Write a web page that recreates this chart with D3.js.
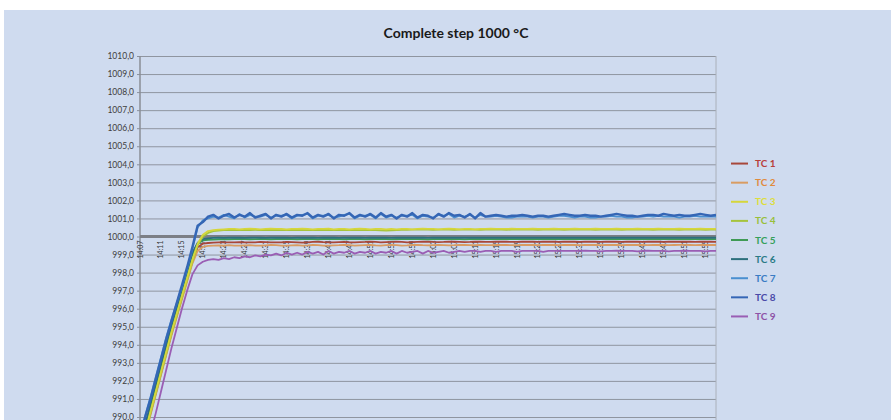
<!DOCTYPE html>
<html>
<head>
<meta charset="utf-8">
<script src="https://cdn.jsdelivr.net/npm/d3@7/dist/d3.min.js"></script>
<style>
  html, body { margin: 0; padding: 0; background: #fff; }
  svg { display: block; }
</style>
</head>
<body>
<div id="chart"></div>
<script>
// Complete step 1000 °C — thermocouple readings, one point per minute

const times = [
  '14:07','14:08','14:09','14:10','14:11','14:12','14:13','14:14','14:15','14:16',
  '14:17','14:18','14:19','14:20','14:21','14:22','14:23','14:24','14:25','14:26',
  '14:27','14:28','14:29','14:30','14:31','14:32','14:33','14:34','14:35','14:36',
  '14:37','14:38','14:39','14:40','14:41','14:42','14:43','14:44','14:45','14:46',
  '14:47','14:48','14:49','14:50','14:51','14:52','14:53','14:54','14:55','14:56',
  '14:57','14:58','14:59','15:00','15:01','15:02','15:03','15:04','15:05','15:06',
  '15:07','15:08','15:09','15:10','15:11','15:12','15:13','15:14','15:15','15:16',
  '15:17','15:18','15:19','15:20','15:21','15:22','15:23','15:24','15:25','15:26',
  '15:27','15:28','15:29','15:30','15:31','15:32','15:33','15:34','15:35','15:36',
  '15:37','15:38','15:39','15:40','15:41','15:42','15:43','15:44','15:45','15:46',
  '15:47','15:48','15:49','15:50','15:51','15:52','15:53','15:54','15:55','15:56',
  '15:57'
];

// label shown every 4th minute
const tickLabels = [
  '14:07','14:11','14:15','14:19','14:23','14:27','14:31','14:35','14:39','14:43',
  '14:47','14:51','14:55','14:59','15:03','15:07','15:11','15:15','15:19','15:23',
  '15:27','15:31','15:35','15:39','15:43','15:47','15:51','15:55'
];

const yTicks = [990,991,992,993,994,995,996,997,998,999,1000,1001,1002,1003,1004,1005,1006,1007,1008,1009,1010];

const seriesNames = ['TC 1','TC 2','TC 3','TC 4','TC 5','TC 6','TC 7','TC 8','TC 9'];
const lineColors  = ['#a8473a','#d99c62','#d6d63c','#a6c43c','#3f9a55','#2c6f7c','#4a8fd0','#3566b5','#9a5eb4'];
const textColors  = ['#b8403a','#e08a3c','#dede3a','#98bf3a','#35a05a','#2a7a86','#3a7cc4','#4a4aa8','#8e52a6'];

const tc1 = [
  988.0, 989.1, 990.2, 991.3, 992.4, 993.5, 994.6, 995.6, 996.6, 997.6, 998.6, 999.4, 999.6, 999.64,
  999.66, 999.67, 999.68, 999.67, 999.68, 999.69, 999.68, 999.67, 999.68, 999.7,
  999.69, 999.68, 999.67, 999.68, 999.7, 999.69, 999.68, 999.66, 999.68, 999.7,
  999.71, 999.69, 999.68, 999.67, 999.69, 999.7, 999.68, 999.67, 999.69, 999.7,
  999.72, 999.7, 999.68, 999.69, 999.7, 999.71, 999.7, 999.68, 999.69, 999.7,
  999.71, 999.72, 999.7, 999.69, 999.7, 999.72, 999.71, 999.7, 999.69, 999.7,
  999.72, 999.71, 999.7, 999.7, 999.71, 999.72, 999.71, 999.7, 999.7, 999.71,
  999.72, 999.71, 999.7, 999.71, 999.72, 999.71, 999.7, 999.71, 999.72, 999.71,
  999.7, 999.71, 999.72, 999.71, 999.7, 999.71, 999.72, 999.71, 999.7, 999.71,
  999.72, 999.71, 999.7, 999.71, 999.72, 999.71, 999.7, 999.71, 999.72, 999.71,
  999.72, 999.71, 999.7, 999.71, 999.72, 999.71, 999.7
];

const tc2 = [
  987.9, 989.0, 990.1, 991.2, 992.3, 993.4, 994.5, 995.5, 996.5, 997.5, 998.5, 999.2, 999.42, 999.48,
  999.5, 999.51, 999.5, 999.52, 999.5, 999.49, 999.51, 999.52, 999.5, 999.49,
  999.51, 999.53, 999.52, 999.5, 999.49, 999.51, 999.52, 999.5, 999.51, 999.53,
  999.52, 999.5, 999.49, 999.51, 999.52, 999.54, 999.52, 999.5, 999.51, 999.52,
  999.53, 999.51, 999.5, 999.52, 999.53, 999.52, 999.5, 999.51, 999.53, 999.54,
  999.52, 999.51, 999.52, 999.53, 999.52, 999.51, 999.52, 999.54, 999.53, 999.52,
  999.52, 999.53, 999.52, 999.52, 999.53, 999.54, 999.53, 999.52, 999.52, 999.53,
  999.54, 999.53, 999.52, 999.53, 999.54, 999.53, 999.52, 999.53, 999.54, 999.53,
  999.52, 999.53, 999.54, 999.53, 999.52, 999.53, 999.54, 999.53, 999.52, 999.53,
  999.53, 999.54, 999.53, 999.52, 999.53, 999.54, 999.53, 999.52, 999.53, 999.54,
  999.54, 999.53, 999.52, 999.53, 999.54, 999.53, 999.53
];

const tc3 = [
  988.1, 989.2, 990.3, 991.4, 992.5, 993.6, 994.7, 995.7, 996.7, 997.7, 998.7, 999.6, 1000.1, 1000.3,
  1000.35, 1000.38, 1000.4, 1000.42, 1000.42, 1000.4, 1000.42, 1000.43, 1000.42, 1000.4,
  1000.42, 1000.43, 1000.42, 1000.42, 1000.4, 1000.42, 1000.42, 1000.43, 1000.42, 1000.4,
  1000.42, 1000.42, 1000.43, 1000.4, 1000.42, 1000.42, 1000.4, 1000.42, 1000.43, 1000.42,
  1000.4, 1000.42, 1000.42, 1000.4, 1000.42, 1000.4, 1000.42, 1000.42, 1000.4, 1000.42,
  1000.43, 1000.42, 1000.42, 1000.4, 1000.42, 1000.43, 1000.42, 1000.4, 1000.42, 1000.42,
  1000.4, 1000.42, 1000.42, 1000.43, 1000.42, 1000.42, 1000.42, 1000.43, 1000.42, 1000.42,
  1000.42, 1000.43, 1000.42, 1000.42, 1000.42, 1000.43, 1000.42, 1000.42, 1000.42, 1000.43,
  1000.42, 1000.42, 1000.42, 1000.43, 1000.42, 1000.42, 1000.42, 1000.43, 1000.42, 1000.42,
  1000.42, 1000.43, 1000.42, 1000.42, 1000.42, 1000.43, 1000.42, 1000.42, 1000.42, 1000.43,
  1000.42, 1000.42, 1000.42, 1000.43, 1000.42, 1000.42, 1000.42
];

const tc4 = [
  988.0, 989.1, 990.2, 991.3, 992.4, 993.5, 994.6, 995.6, 996.6, 997.6, 998.6, 999.5, 1000.0, 1000.2,
  1000.3, 1000.33, 1000.35, 1000.36, 1000.36, 1000.37, 1000.36, 1000.36, 1000.37, 1000.36,
  1000.36, 1000.37, 1000.36, 1000.35, 1000.36, 1000.37, 1000.36, 1000.36, 1000.35, 1000.36,
  1000.37, 1000.36, 1000.36, 1000.35, 1000.36, 1000.36, 1000.37, 1000.36, 1000.35, 1000.36,
  1000.36, 1000.35, 1000.34, 1000.33, 1000.34, 1000.36, 1000.37, 1000.37, 1000.38, 1000.38,
  1000.38, 1000.38, 1000.37, 1000.38, 1000.38, 1000.38, 1000.37, 1000.38, 1000.38, 1000.38,
  1000.38, 1000.37, 1000.38, 1000.38, 1000.38, 1000.38, 1000.37, 1000.38, 1000.38, 1000.38,
  1000.38, 1000.38, 1000.37, 1000.38, 1000.38, 1000.38, 1000.38, 1000.37, 1000.38, 1000.38,
  1000.38, 1000.38, 1000.38, 1000.37, 1000.38, 1000.38, 1000.38, 1000.38, 1000.37, 1000.38,
  1000.38, 1000.38, 1000.38, 1000.38, 1000.37, 1000.38, 1000.38, 1000.38, 1000.38, 1000.37,
  1000.38, 1000.38, 1000.38, 1000.38, 1000.37, 1000.38, 1000.38
];

const tc5 = [
  988.4, 989.5, 990.6, 991.7, 992.8, 993.9, 995.0, 996.0, 997.0, 998.0, 999.0, 999.6, 999.78, 999.82,
  999.83, 999.84, 999.85, 999.84, 999.85, 999.86, 999.85, 999.84, 999.85, 999.86,
  999.85, 999.84, 999.85, 999.86, 999.85, 999.85, 999.84, 999.85, 999.86, 999.85,
  999.84, 999.85, 999.86, 999.85, 999.85, 999.84, 999.85, 999.86, 999.85, 999.84,
  999.85, 999.86, 999.86, 999.85, 999.84, 999.85, 999.86, 999.85, 999.85, 999.86,
  999.85, 999.84, 999.85, 999.86, 999.85, 999.85, 999.86, 999.85, 999.84, 999.85,
  999.86, 999.85, 999.85, 999.86, 999.85, 999.85, 999.86, 999.85, 999.85, 999.86,
  999.85, 999.85, 999.86, 999.85, 999.85, 999.86, 999.85, 999.85, 999.86, 999.85,
  999.85, 999.86, 999.85, 999.85, 999.86, 999.85, 999.85, 999.86, 999.85, 999.85,
  999.86, 999.85, 999.85, 999.86, 999.85, 999.85, 999.86, 999.85, 999.85, 999.86,
  999.86, 999.85, 999.85, 999.86, 999.85, 999.85, 999.86
];

const tc6 = [
  988.5, 989.6, 990.7, 991.8, 992.9, 994.0, 995.1, 996.1, 997.1, 998.1, 999.1, 999.65, 999.85, 999.9,
  999.92, 999.93, 999.92, 999.93, 999.94, 999.93, 999.92, 999.93, 999.94, 999.93,
  999.92, 999.93, 999.93, 999.94, 999.93, 999.92, 999.93, 999.94, 999.93, 999.93,
  999.92, 999.93, 999.94, 999.93, 999.92, 999.93, 999.93, 999.94, 999.93, 999.92,
  999.93, 999.94, 999.93, 999.93, 999.92, 999.93, 999.94, 999.93, 999.93, 999.94,
  999.93, 999.92, 999.93, 999.94, 999.93, 999.93, 999.94, 999.93, 999.93, 999.94,
  999.93, 999.93, 999.94, 999.93, 999.93, 999.94, 999.93, 999.93, 999.94, 999.93,
  999.93, 999.94, 999.93, 999.93, 999.94, 999.93, 999.93, 999.94, 999.93, 999.93,
  999.94, 999.93, 999.93, 999.94, 999.93, 999.93, 999.94, 999.93, 999.93, 999.94,
  999.93, 999.94, 999.93, 999.93, 999.94, 999.93, 999.93, 999.94, 999.93, 999.93,
  999.93, 999.93, 999.94, 999.93, 999.93, 999.94, 999.93
];

const tc7 = [
  989.0, 990.1, 991.1, 992.2, 993.3, 994.4, 995.4, 996.3, 997.2, 998.2, 999.3, 1000.5, 1000.9, 1001.0,
  1001.1, 1001.05, 1001.2, 1001.1, 1001.0, 1001.25, 1001.05, 1001.2, 1001.1, 1001.1,
  1001.2, 1001.05, 1001.15, 1001.15, 1001.2, 1001.0, 1001.15, 1001.2, 1001.25, 1001.0,
  1001.15, 1001.15, 1001.2, 1001.05, 1001.1, 1001.2, 1001.25, 1001.0, 1001.15, 1001.15,
  1001.2, 1001.0, 1001.25, 1001.05, 1001.15, 1001.05, 1001.15, 1001.15, 1001.2, 1001.0,
  1001.15, 1001.1, 1001.05, 1001.2, 1001.15, 1001.25, 1001.05, 1001.15, 1001.1, 1001.2,
  1001.05, 1001.2, 1001.1, 1001.1, 1001.15, 1001.1, 1001.05, 1001.05, 1001.1, 1001.1,
  1001.1, 1001.05, 1001.1, 1001.1, 1001.05, 1001.1, 1001.15, 1001.15, 1001.1, 1001.05,
  1001.1, 1001.1, 1001.05, 1001.05, 1001.1, 1001.1, 1001.15, 1001.1, 1001.1, 1001.05,
  1001.05, 1001.1, 1001.1, 1001.15, 1001.1, 1001.15, 1001.1, 1001.1, 1001.1, 1001.05,
  1001.1, 1001.1, 1001.15, 1001.1, 1001.1, 1001.1, 1001.1
];

const tc8 = [
  988.9, 990.0, 991.0, 992.1, 993.2, 994.3, 995.3, 996.3, 997.3, 998.3, 999.4, 1000.6, 1000.8, 1001.1,
  1001.2, 1001.0, 1001.15, 1001.25, 1001.05, 1001.2, 1001.1, 1001.3, 1001.05, 1001.15,
  1001.25, 1001.0, 1001.2, 1001.1, 1001.25, 1001.05, 1001.2, 1001.15, 1001.3, 1001.05,
  1001.2, 1001.1, 1001.25, 1001.0, 1001.2, 1001.15, 1001.3, 1001.05, 1001.2, 1001.1,
  1001.25, 1001.05, 1001.3, 1001.1, 1001.2, 1001.0, 1001.2, 1001.1, 1001.3, 1001.05,
  1001.2, 1001.15, 1001.0, 1001.25, 1001.1, 1001.3, 1001.15, 1001.2, 1001.05, 1001.25,
  1001.0, 1001.3, 1001.1, 1001.15, 1001.2, 1001.15, 1001.1, 1001.15, 1001.15, 1001.2,
  1001.15, 1001.1, 1001.15, 1001.15, 1001.1, 1001.15, 1001.2, 1001.25, 1001.2, 1001.15,
  1001.15, 1001.2, 1001.15, 1001.15, 1001.1, 1001.15, 1001.2, 1001.25, 1001.2, 1001.15,
  1001.15, 1001.1, 1001.15, 1001.2, 1001.2, 1001.15, 1001.25, 1001.2, 1001.15, 1001.2,
  1001.15, 1001.15, 1001.2, 1001.25, 1001.2, 1001.15, 1001.2
];

const tc9 = [
  987.0, 988.0, 989.1, 990.2, 991.4, 992.6, 993.8, 994.9, 996.0, 997.0, 997.9, 998.4, 998.6, 998.7,
  998.75, 998.7, 998.8, 998.75, 998.85, 998.8, 998.9, 998.85, 998.95, 998.9,
  999.0, 998.95, 999.05, 998.95, 999.1, 999.0, 999.1, 999.0, 999.15, 999.05,
  999.15, 999.0, 999.2, 999.05, 999.15, 999.1, 999.2, 999.05, 999.15, 999.1,
  999.2, 999.05, 999.15, 999.1, 999.2, 999.05, 999.2, 999.1, 999.15, 999.2,
  999.05, 999.2, 999.1, 999.15, 999.2, 999.1, 999.15, 999.2, 999.15, 999.2,
  999.2, 999.15, 999.2, 999.2, 999.15, 999.2, 999.2, 999.2, 999.15, 999.2,
  999.2, 999.2, 999.2, 999.15, 999.2, 999.2, 999.2, 999.2, 999.2, 999.2,
  999.2, 999.22, 999.2, 999.2, 999.18, 999.2, 999.2, 999.22, 999.2, 999.2,
  999.2, 999.18, 999.2, 999.22, 999.2, 999.2, 999.2, 999.18, 999.2, 999.2,
  999.22, 999.2, 999.2, 999.2, 999.18, 999.2, 999.2
];

const seriesValues = [tc1, tc2, tc3, tc4, tc5, tc6, tc7, tc8, tc9];

(function () {
  'use strict';

  const W = 891, H = 420;
  const plot = { left: 140, right: 716, top: 56, bottom: 417 };
  const font = "Lato, 'Open Sans', sans-serif";

  const svg = d3.select('#chart').append('svg').attr('width', W).attr('height', H);

  // background
  svg.append('rect').attr('x', 0).attr('y', 0).attr('width', W).attr('height', H).attr('fill', '#ffffff');
  svg.append('rect').attr('x', 4).attr('y', 10).attr('width', W - 4).attr('height', H - 10).attr('fill', '#cfdbef');

  const x = d3.scalePoint().domain(times).range([plot.left, plot.right]);
  const y = d3.scaleLinear().domain([990, 1010]).range([plot.bottom, plot.top]);

  // horizontal gridlines + left axis labels
  const gy = svg.append('g').attr('transform', `translate(${plot.left},0)`)
    .call(d3.axisLeft(y).tickValues(yTicks).tickSize(3)
      .tickFormat(d => d3.format('.1f')(d).replace('.', ',')));
  gy.select('.domain').remove();
  gy.selectAll('line').attr('stroke', '#8a909c');
  gy.selectAll('text').attr('fill', '#404040').style('font-family', font).style('font-size', '8.5px');
  gy.selectAll('.tick').append('line')
    .attr('x1', 0).attr('x2', plot.right - plot.left)
    .attr('stroke', '#8f95a0').attr('stroke-width', 1);

  // plot frame: left axis and right edge
  svg.append('line').attr('x1', plot.left).attr('x2', plot.left).attr('y1', plot.top).attr('y2', H)
    .attr('stroke', '#8a8e96').attr('stroke-width', 1.5);
  svg.append('line').attr('x1', plot.right).attr('x2', plot.right).attr('y1', plot.top).attr('y2', H)
    .attr('stroke', '#aab0ba').attr('stroke-width', 1);

  // category axis crosses at 1000,0
  const y0 = y(1000);
  svg.append('line').attr('x1', plot.left).attr('x2', plot.right).attr('y1', y0).attr('y2', y0)
    .attr('stroke', '#7c7f86').attr('stroke-width', 3);

  svg.append('g').selectAll('text').data(tickLabels).enter().append('text')
    .attr('transform', d => `translate(${x(d) + 2.5},${y0 + 4}) rotate(-90)`)
    .attr('text-anchor', 'end')
    .style('font-family', font).style('font-size', '7px').attr('fill', '#333333')
    .text(d => d);

  // series lines
  svg.append('clipPath').attr('id', 'plotclip').append('rect')
    .attr('x', plot.left).attr('y', plot.top).attr('width', plot.right - plot.left).attr('height', H - plot.top);

  const line = d3.line().x((d, i) => x(times[i])).y(d => y(d));
  const gl = svg.append('g').attr('clip-path', 'url(#plotclip)');
  const drawOrder = [0, 1, 4, 5, 3, 2, 8, 6, 7];
  drawOrder.forEach(k => {
    gl.append('path').datum(seriesValues[k])
      .attr('fill', 'none')
      .attr('stroke', lineColors[k])
      .attr('stroke-width', k === 7 ? 2.4 : 1.8)
      .attr('stroke-linejoin', 'round')
      .attr('d', line);
  });

  // legend
  const leg = d3.scaleBand().domain(seriesNames).range([154, 326]);
  const lg = svg.append('g');
  seriesNames.forEach((name, k) => {
    const cy = leg(name) + leg.bandwidth() / 2;
    lg.append('line').attr('x1', 731).attr('x2', 748).attr('y1', cy).attr('y2', cy)
      .attr('stroke', lineColors[k]).attr('stroke-width', 2);
    lg.append('text').attr('x', 755).attr('y', cy + 3.5)
      .style('font-family', font).style('font-size', '10px').style('font-weight', 'bold')
      .attr('fill', textColors[k]).text(name);
  });

  // title
  svg.append('text').attr('x', 456).attr('y', 38).attr('text-anchor', 'middle')
    .style('font-family', font).style('font-size', '14px').style('font-weight', 'bold')
    .attr('fill', '#1a1a1a').text('Complete step 1000 °C');
})();
</script>
</body>
</html>
